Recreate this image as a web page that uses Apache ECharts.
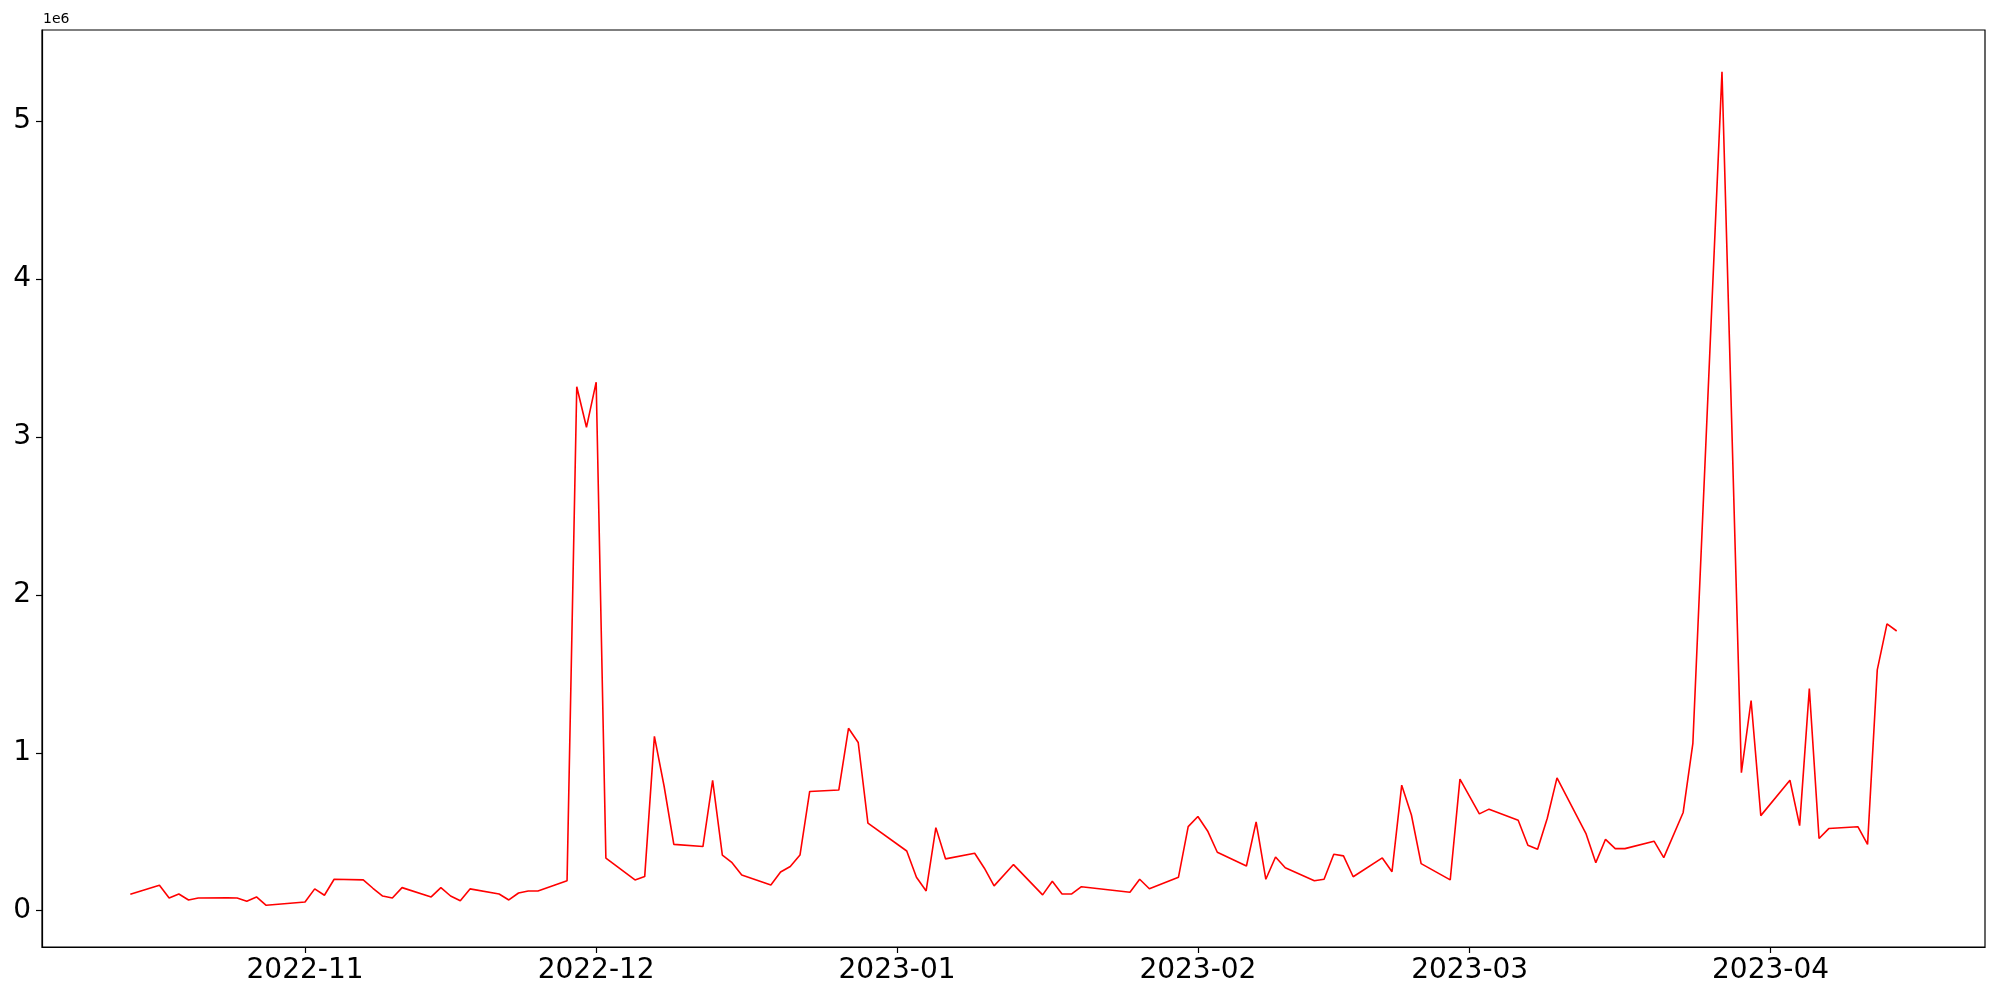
<!DOCTYPE html>
<html>
<head>
<meta charset="utf-8">
<script src="https://cdn.jsdelivr.net/npm/echarts@6/dist/echarts.min.js"></script>
<style>html,body{margin:0;padding:0;background:#fff}#c{width:2000px;height:1000px}</style>
</head>
<body>
<div id="c"></div>
<script>
const dates = ["2022-10-14","2022-10-17","2022-10-18","2022-10-19","2022-10-20","2022-10-21","2022-10-24","2022-10-25","2022-10-26","2022-10-27","2022-10-28",
"2022-11-01","2022-11-02","2022-11-03","2022-11-04","2022-11-07","2022-11-08","2022-11-09","2022-11-10","2022-11-11","2022-11-14","2022-11-15","2022-11-16","2022-11-17","2022-11-18","2022-11-21","2022-11-22","2022-11-23","2022-11-24","2022-11-25","2022-11-28","2022-11-29","2022-11-30",
"2022-12-01","2022-12-02","2022-12-05","2022-12-06","2022-12-07","2022-12-08","2022-12-09","2022-12-12","2022-12-13","2022-12-14","2022-12-15","2022-12-16","2022-12-19","2022-12-20","2022-12-21","2022-12-22","2022-12-23","2022-12-26","2022-12-27","2022-12-28","2022-12-29",
"2023-01-02","2023-01-03","2023-01-04","2023-01-05","2023-01-06","2023-01-09","2023-01-10","2023-01-11","2023-01-13","2023-01-16","2023-01-17","2023-01-18","2023-01-19","2023-01-20","2023-01-25","2023-01-26","2023-01-27","2023-01-30","2023-01-31",
"2023-02-01","2023-02-02","2023-02-03","2023-02-06","2023-02-07","2023-02-08","2023-02-09","2023-02-10","2023-02-13","2023-02-14","2023-02-15","2023-02-16","2023-02-17","2023-02-20","2023-02-21","2023-02-22","2023-02-23","2023-02-24","2023-02-27","2023-02-28",
"2023-03-02","2023-03-03","2023-03-06","2023-03-07","2023-03-08","2023-03-09","2023-03-10","2023-03-13","2023-03-14","2023-03-15","2023-03-16","2023-03-17","2023-03-20","2023-03-21","2023-03-23","2023-03-24","2023-03-27","2023-03-29","2023-03-30","2023-03-31",
"2023-04-03","2023-04-04","2023-04-05","2023-04-06","2023-04-07","2023-04-10","2023-04-11","2023-04-12","2023-04-13","2023-04-14"];
// values in units of 1e6
const valuesM = [0.104,0.161,0.080,0.106,0.068,0.080,0.081,0.080,0.060,0.087,0.034,
0.055,0.138,0.098,0.199,0.195,0.142,0.093,0.080,0.146,0.087,0.146,0.093,0.063,0.138,0.106,0.068,0.112,0.125,0.125,0.190,3.318,3.061,
3.347,0.333,0.195,0.216,1.104,0.788,0.420,0.406,0.825,0.352,0.304,0.226,0.163,0.245,0.280,0.352,0.755,0.764,1.155,1.065,0.554,
0.378,0.212,0.125,0.526,0.328,0.364,0.269,0.157,0.292,0.100,0.186,0.106,0.106,0.152,0.117,0.199,0.139,0.212,0.532,
0.596,0.505,0.370,0.283,0.562,0.199,0.340,0.272,0.190,0.199,0.357,0.347,0.215,0.334,0.247,0.795,0.606,0.298,0.195,0.833,
0.613,0.643,0.573,0.414,0.389,0.585,0.841,0.486,0.304,0.452,0.393,0.393,0.440,0.336,0.622,1.060,5.313,0.874,1.331,0.602,
0.826,0.539,1.406,0.457,0.520,0.532,0.420,1.525,1.816,1.771];
const yTicks = [0,1,2,3,4,5];
const xTickLabels = ["2022-11","2022-12","2023-01","2023-02","2023-03","2023-04"];
const SCALE = 1e6;

function ts(s){ const p=s.split('-').map(Number); return Date.UTC(p[0], p[1]-1, p[2]||1); }
const data = dates.map((d,i)=>[ts(d), valuesM[i]*SCALE]);
const xs = data.map(d=>d[0]), ys = data.map(d=>d[1]);
const xMin0=Math.min(...xs), xMax0=Math.max(...xs), yMin0=Math.min(...ys), yMax0=Math.max(...ys);
const mx=(xMax0-xMin0)*0.05, my=(yMax0-yMin0)*0.05;
const xTickVals = xTickLabels.map(ts);
const lblMap = {}; xTickVals.forEach((v,i)=>lblMap[v]=xTickLabels[i]);

const chart = echarts.init(document.getElementById('c'), null, {renderer:'canvas'});
chart.setOption({
  animation:false,
  backgroundColor:'#fff',
  title:{text:'1e6',left:43,top:12,padding:[0,0,0,0],textStyle:{fontFamily:'DejaVu Sans',fontSize:14,fontWeight:'normal',color:'#000'}},
  grid:{left:42,right:15,top:30,bottom:53,show:true,borderColor:'#000',borderWidth:1.2,backgroundColor:'transparent'},
  xAxis:{type:'value',min:xMin0-mx,max:xMax0+mx,scale:true,
    axisLine:{show:true,onZero:false,lineStyle:{color:'#000',width:1.2}},
    axisTick:{show:true,length:6,lineStyle:{color:'#000',width:1.2},customValues:xTickVals},
    axisLabel:{fontFamily:'DejaVu Sans',fontSize:28,color:'#000',margin:10,customValues:xTickVals,
      formatter:function(v){ return lblMap[v]!==undefined?lblMap[v]:''; } },
    splitLine:{show:false}},
  yAxis:{type:'value',min:yMin0-my,max:yMax0+my,
    axisLine:{show:true,onZero:false,lineStyle:{color:'#000',width:1.2}},
    axisTick:{show:true,length:6,lineStyle:{color:'#000',width:1.2},customValues:yTicks.map(v=>v*SCALE)},
    axisLabel:{fontFamily:'DejaVu Sans',fontSize:28,color:'#000',margin:11,customValues:yTicks.map(v=>v*SCALE),
      formatter:function(v){return String(Math.round(v/SCALE));}},
    splitLine:{show:false}},
  series:[{type:'line',data:data,showSymbol:false,symbol:'none',lineStyle:{color:'#ff0000',width:1.6},itemStyle:{color:'#ff0000'}}]
});
</script>
</body>
</html>
